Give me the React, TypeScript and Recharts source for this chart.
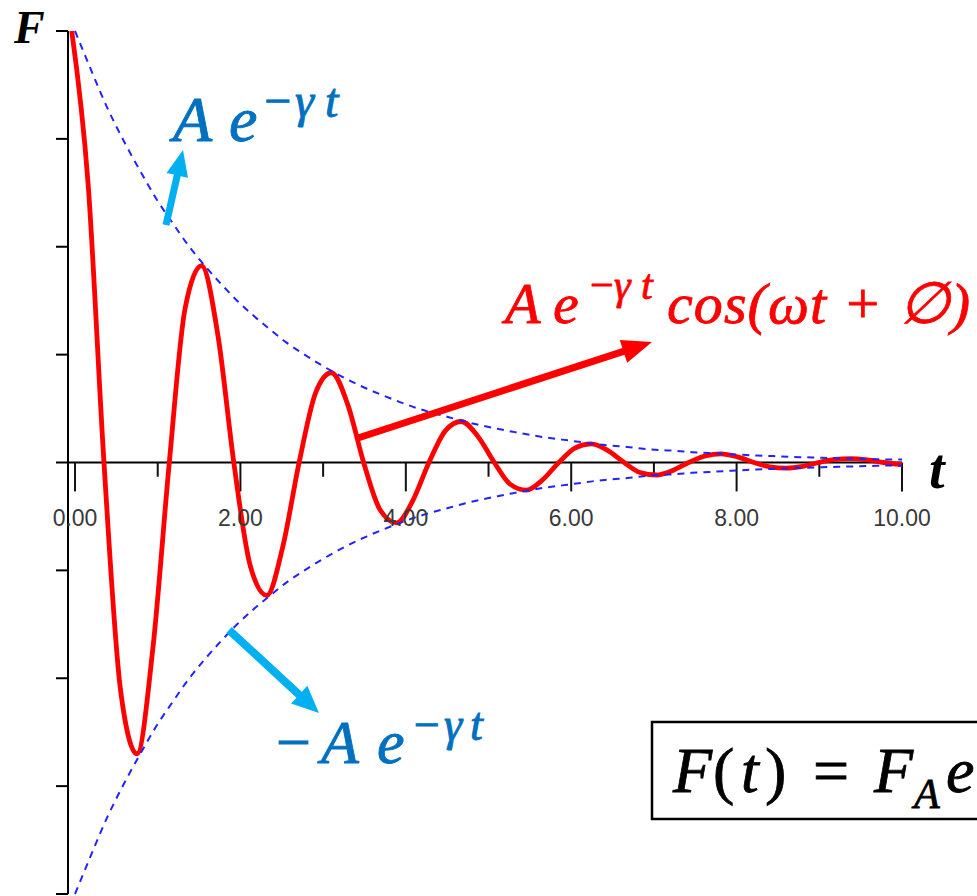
import React from 'react';
import { LineChart, Line, XAxis, YAxis, ReferenceLine } from 'recharts';

// ---- data ----
const envelopeTimes = [0.00,0.20,0.39,0.59,0.79,0.98,1.18,1.37,1.57,1.77,1.96,2.16,2.36,2.55,2.75,2.95,3.14,3.34,3.53,3.73,3.93,4.12,4.32,4.52,4.71,4.91,5.11,5.30,5.50,5.69,5.89,6.09,6.28,6.48,6.68,6.87,7.07,7.26,7.46,7.66,7.85,8.05,8.25,8.44,8.64,8.84,9.03,9.23,9.42,9.62,9.82,10.00];
const upperEnvelope = [1.000,0.907,0.822,0.745,0.675,0.612,0.555,0.503,0.456,0.413,0.375,0.340,0.308,0.279,0.253,0.229,0.208,0.188,0.171,0.155,0.140,0.127,0.115,0.105,0.095,0.086,0.078,0.071,0.064,0.058,0.053,0.048,0.043,0.039,0.036,0.032,0.029,0.027,0.024,0.022,0.020,0.018,0.016,0.015,0.013,0.012,0.011,0.010,0.009,0.008,0.007,0.007];
const lowerEnvelope = [-1.000,-0.907,-0.822,-0.745,-0.675,-0.612,-0.555,-0.503,-0.456,-0.413,-0.375,-0.340,-0.308,-0.279,-0.253,-0.229,-0.208,-0.188,-0.171,-0.155,-0.140,-0.127,-0.115,-0.105,-0.095,-0.086,-0.078,-0.071,-0.064,-0.058,-0.053,-0.048,-0.043,-0.039,-0.036,-0.032,-0.029,-0.027,-0.024,-0.022,-0.020,-0.018,-0.016,-0.015,-0.013,-0.012,-0.011,-0.010,-0.009,-0.008,-0.007,-0.007];

const dampedTimes = [-0.04,0.16,0.35,0.55,0.75,0.94,1.14,1.33,1.53,1.73,1.92,2.12,2.32,2.51,2.71,2.91,3.10,3.30,3.49,3.69,3.89,4.08,4.28,4.48,4.67,4.87,5.07,5.26,5.46,5.65,5.85,6.05,6.24,6.44,6.64,6.83,7.03,7.22,7.42,7.62,7.81,8.01,8.21,8.40,8.60,8.80,8.99,9.19,9.38,9.58,9.78,10.00];
const dampedValues = [1.000,0.641,0.000,-0.527,-0.675,-0.433,0.000,0.356,0.456,0.292,0.000,-0.240,-0.308,-0.197,0.000,0.162,0.208,0.133,0.000,-0.110,-0.140,-0.090,0.000,0.074,0.095,0.061,0.000,-0.050,-0.064,-0.041,0.000,0.034,0.043,0.028,0.000,-0.023,-0.029,-0.019,0.000,0.015,0.020,0.013,0.000,-0.010,-0.013,-0.009,0.000,0.007,0.009,0.006,0.000,-0.005];

const xTickValues = [0,1,2,3,4,5,6,7,8,9,10];
const xTickLabels = ['0.00','','2.00','','4.00','','6.00','','8.00','','10.00'];
const yTickValues = [-1,-0.75,-0.5,-0.25,0,0.25,0.5,0.75,1];

const envelopeData = envelopeTimes.map((t, i) => ({ t, upper: upperEnvelope[i], lower: lowerEnvelope[i] }));
const dampedData = dampedTimes.map((t, i) => ({ t, f: dampedValues[i] }));

const RED = '#FF0000';
const BLUE_TEXT = '#0070C0';
const CYAN = '#00B0F0';
const DASH_BLUE = '#2323ff';
const MATH = "'Liberation Serif', 'DejaVu Serif', serif";

function arrowPoints(x1: number, y1: number, x2: number, y2: number, shaft: number, headW: number, headL: number) {
  const dx = x2 - x1, dy = y2 - y1;
  const len = Math.hypot(dx, dy);
  const ux = dx / len, uy = dy / len;
  const px = -uy, py = ux;
  const bx = x2 - ux * headL, by = y2 - uy * headL;
  const pts = [
    [x1 + px * shaft / 2, y1 + py * shaft / 2],
    [bx + px * shaft / 2, by + py * shaft / 2],
    [bx + px * headW / 2, by + py * headW / 2],
    [x2, y2],
    [bx - px * headW / 2, by - py * headW / 2],
    [bx - px * shaft / 2, by - py * shaft / 2],
    [x1 - px * shaft / 2, y1 - py * shaft / 2],
  ];
  return pts.map(p => p.join(',')).join(' ');
}

export default function App() {
  return (
    <div style={{ position: 'absolute', left: 0, top: 0, width: 977, height: 896, background: '#fff', overflow: 'hidden' }}>
      <LineChart width={977} height={896} margin={{ top: 31, right: 75, bottom: 2, left: 0 }}>
        <XAxis type="number" dataKey="t" domain={[-0.085, 10]} hide allowDataOverflow />
        <YAxis
          type="number"
          domain={[-1, 1]}
          ticks={yTickValues}
          width={68}
          tickSize={12}
          tickFormatter={() => ''}
          axisLine={{ stroke: '#000', strokeWidth: 2 }}
          tickLine={{ stroke: '#000', strokeWidth: 2 }}
        />
        <ReferenceLine y={0} stroke="#000" strokeWidth={2} />
        {xTickValues.map((v, i) => (
          <ReferenceLine
            key={'tick' + v}
            segment={[{ x: v, y: 0 }, { x: v, y: xTickLabels[i] ? -0.067 : -0.033 }]}
            stroke="#111"
            strokeWidth={2}
            label={xTickLabels[i] ? {
              value: xTickLabels[i],
              position: 'bottom',
              offset: 18,
              fill: '#3a3a3a',
              fontSize: 23,
              fontFamily: "'Liberation Sans', Arial, sans-serif",
            } : undefined}
          />
        ))}
        <Line data={dampedData} dataKey="f" type="monotone" stroke={RED} strokeWidth={4.8} dot={false} isAnimationActive={false} />
        <Line data={envelopeData} dataKey="upper" type="monotone" stroke={DASH_BLUE} strokeWidth={2} strokeDasharray="7 6" dot={false} isAnimationActive={false} />
        <Line data={envelopeData} dataKey="lower" type="monotone" stroke={DASH_BLUE} strokeWidth={2} strokeDasharray="7 6" dot={false} isAnimationActive={false} />
      </LineChart>

      <svg width={977} height={896} style={{ position: 'absolute', left: 0, top: 0, pointerEvents: 'none' }}>
        {/* axis names */}
        <text x={14} y={43} fontFamily={MATH} fontWeight="bold" fontStyle="italic" fontSize={46} fill="#000">F</text>
        <text x={929} y={488} fontFamily={MATH} fontWeight="bold" fontStyle="italic" fontSize={56} fill="#000">t</text>

        {/* upper envelope label */}
        <g fill={BLUE_TEXT} stroke={BLUE_TEXT} strokeWidth={0.9} fontFamily={MATH} fontStyle="italic">
          <text x={173} y={141} fontSize={64}>A</text>
          <text x={229} y={141} fontSize={64}>e</text>
          <text x={264} y={117} fontSize={48} fontStyle="normal">−</text>
          <text x={295} y={117} fontSize={48}>γ</text>
          <text x={325} y={117} fontSize={48}>t</text>
        </g>
        <polygon points={arrowPoints(166, 225, 183, 150, 7, 22, 26)} fill={CYAN} />

        {/* damped label */}
        <g fill={RED} stroke={RED} strokeWidth={0.8} fontFamily={MATH} fontStyle="italic">
          <text x={505} y={323} fontSize={58}>A</text>
          <text x={553} y={323} fontSize={58}>e</text>
          <text x={590} y={299} fontSize={42} fontStyle="normal">−</text>
          <text x={614} y={299} fontSize={42}>γ</text>
          <text x={641} y={299} fontSize={42}>t</text>
          <text x={667} y={323} fontSize={58} textLength={303} lengthAdjust="spacing">cos(ωt + ∅)</text>
        </g>
        <polygon points={arrowPoints(358, 438, 652, 342, 7, 24, 30)} fill={RED} />

        {/* lower envelope label */}
        <g fill={BLUE_TEXT} stroke={BLUE_TEXT} strokeWidth={0.9} fontFamily={MATH} fontStyle="italic">
          <text x={276} y={763} fontSize={62} fontStyle="normal">−</text>
          <text x={321} y={763} fontSize={62}>A</text>
          <text x={377} y={763} fontSize={62}>e</text>
          <text x={414} y={740} fontSize={46} fontStyle="normal">−</text>
          <text x={444} y={740} fontSize={46}>γ</text>
          <text x={470} y={740} fontSize={46}>t</text>
        </g>
        <polygon points={arrowPoints(229, 630, 319, 713, 8, 24, 27)} fill={CYAN} />

        {/* boxed formula */}
        <rect x={652} y={722} width={420} height={97} fill="none" stroke="#000" strokeWidth={2.5} />
        <g fill="#000" stroke="#000" strokeWidth={0.8} fontFamily={MATH}>
          <text x={673} y={792} fontSize={64} fontStyle="italic">F</text>
          <text x={713} y={792} fontSize={64}>(</text>
          <text x={741} y={792} fontSize={64} fontStyle="italic">t</text>
          <text x={765} y={792} fontSize={64}>)</text>
          <text x={813} y={792} fontSize={64}>=</text>
          <text x={874} y={792} fontSize={64} fontStyle="italic">F</text>
          <text x={914} y={808} fontSize={42} fontStyle="italic">A</text>
          <text x={946} y={792} fontSize={64} fontStyle="italic">e</text>
        </g>
      </svg>
    </div>
  );
}
